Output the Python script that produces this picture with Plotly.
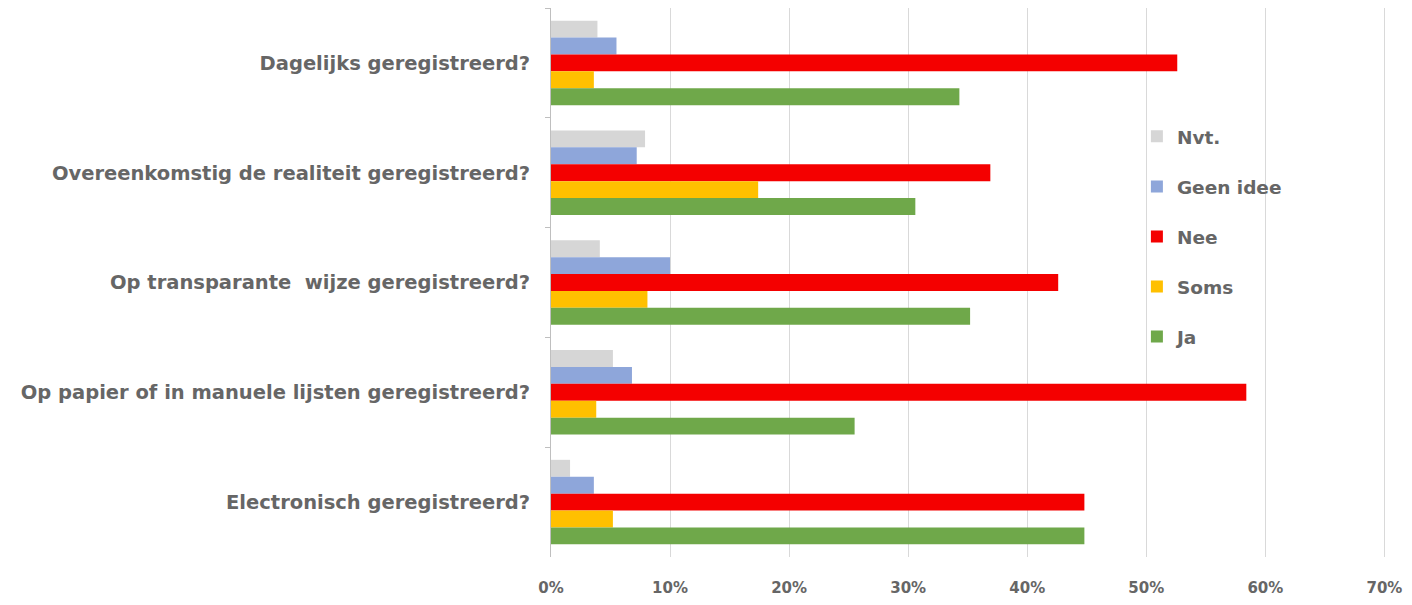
import plotly.graph_objects as go

# Survey questions (top to bottom)
questions = [
    "Dagelijks geregistreerd?",
    "Overeenkomstig de realiteit geregistreerd?",
    "Op transparante  wijze geregistreerd?",
    "Op papier of in manuele lijsten geregistreerd?",
    "Electronisch geregistreerd?",
]

# Answer shares per question, in percent
nvt = [3.9, 7.9, 4.1, 5.2, 1.6]
geen_idee = [5.5, 7.2, 10.0, 6.8, 3.6]
nee = [52.6, 36.9, 42.6, 58.4, 44.8]
soms = [3.6, 17.4, 8.1, 3.8, 5.2]
ja = [34.3, 30.6, 35.2, 25.5, 44.8]

x_ticks = [0, 10, 20, 30, 40, 50, 60, 70]
x_tick_labels = ["0%", "10%", "20%", "30%", "40%", "50%", "60%", "70%"]

series = [
    ("Nvt.", nvt, "#D6D6D6"),
    ("Geen idee", geen_idee, "#8EA6DA"),
    ("Nee", nee, "#F40000"),
    ("Soms", soms, "#FFC000"),
    ("Ja", ja, "#6FA84A"),
]

fig = go.Figure()
for name, vals, color in series:
    fig.add_trace(go.Bar(
        x=vals,
        y=questions,
        name=name,
        orientation="h",
        marker=dict(color=color, line=dict(width=0)),
        legendgroup=name,
    ))

text_color = "#666666"
label_font = "DejaVu Sans, Verdana, sans-serif"
fig.update_layout(
    width=1412,
    height=605,
    margin=dict(l=551, r=24, t=8, b=45),
    paper_bgcolor="white",
    plot_bgcolor="white",
    barmode="group",
    bargap=0.23,
    bargroupgap=0,
    font=dict(family=label_font, color=text_color),
    legend=dict(
        x=0.70,
        y=0.80,
        xanchor="left",
        yanchor="top",
        font=dict(size=18.5, color=text_color, weight="bold"),
        tracegroupgap=23,
        itemwidth=30,
        bgcolor="rgba(0,0,0,0)",
    ),
    showlegend=True,
)
fig.update_xaxes(
    range=[0, 70.3],
    tickvals=x_ticks,
    ticktext=x_tick_labels,
    showgrid=True,
    gridcolor="#D9D9D9",
    gridwidth=1,
    zeroline=False,
    showline=False,
    tickfont=dict(size=15, color=text_color, weight="bold"),
    ticks="",
    ticklabelstandoff=20,
)
fig.update_yaxes(
    autorange="reversed",
    showline=True,
    linecolor="#BFBFBF",
    linewidth=1,
    ticks="outside",
    ticklen=5,
    tickcolor="#BFBFBF",
    tickson="boundaries",
    tickfont=dict(size=19.5, color=text_color, weight="bold"),
    ticklabelstandoff=16,
    showgrid=False,
)

fig.write_html("out.html")
